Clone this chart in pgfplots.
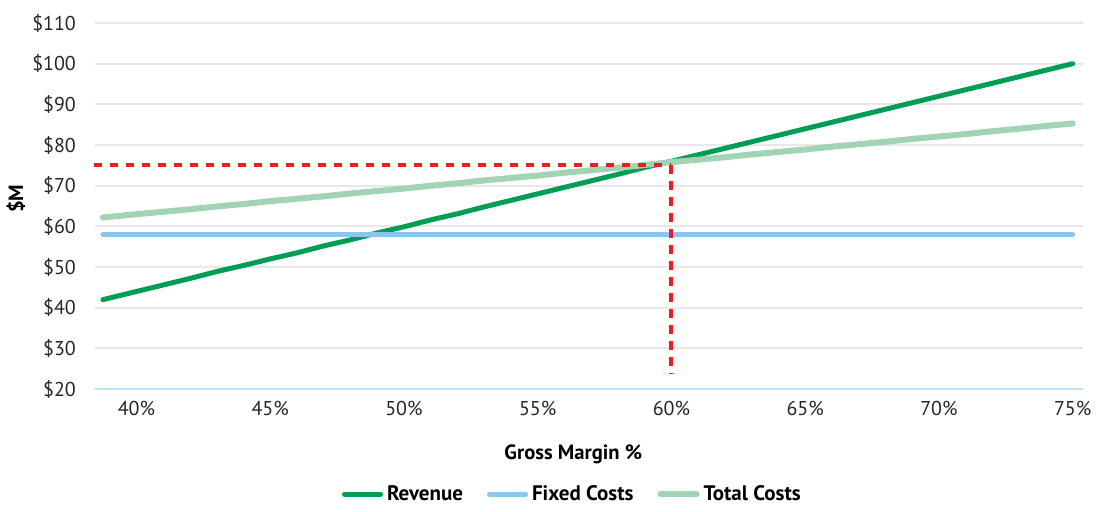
\documentclass[border=0pt]{standalone}
\usepackage{pgfplots}
\pgfplotsset{compat=1.18}
\usepackage{fontspec}
\setmainfont{PT Sans}

\definecolor{revgreen}{RGB}{0,158,82}
\definecolor{fixblue}{RGB}{142,198,232}
\definecolor{totgreen}{RGB}{160,212,180}
\definecolor{bered}{RGB}{237,28,36}
\definecolor{gridgray}{RGB}{232,232,232}
\definecolor{baseblue}{RGB}{190,224,245}

\begin{document}
\begin{tikzpicture}
\begin{axis}[
    scale only axis,
    width=494pt, height=183pt,
    xmin=38.45, xmax=75.4,
    ymin=20, ymax=110,
    xtick={40,45,...,75},
    ytick={20,30,...,110},
    xticklabel={\pgfmathprintnumber{\tick}\%},
    yticklabel={\$\pgfmathprintnumber{\tick}},
    /pgf/number format/assume math mode=true,
    tick label style={font=\fontsize{10}{12}\selectfont, text=black!85},
    axis x line=bottom, axis y line=left,
    x axis line style={draw=baseblue, line width=1pt, -},
    y axis line style={draw=none},
    major tick length=0pt,
    ymajorgrids, grid style={draw=gridgray, line width=1pt},
    xticklabel style={yshift=-2.5pt},
    yticklabel style={xshift=-6pt},
    xlabel={\textbf{Gross Margin \%}},
    xlabel style={font=\fontsize{10.3}{12}\selectfont, at={(axis description cs:0.484,0)}, anchor=center, yshift=-32.5pt},
    ylabel={\textbf{\$M}},
    ylabel style={font=\fontsize{10.3}{12}\selectfont, at={(axis description cs:0,0.52)}, anchor=center, rotate=0, yshift=39.5pt},
    legend columns=3,
    legend style={draw=none, fill=none, at={(0.484,-0.287)}, anchor=center,
        font=\fontsize{10.5}{12}\selectfont\bfseries,
        /tikz/every even column/.append style={column sep=10pt}},
    legend image code/.code={\draw[#1, line cap=round] (0pt,0pt) -- (18pt,0pt);},
    clip=false,
]
\addplot[revgreen, line width=2.5pt, line cap=round, line join=round] coordinates {
 (38.75,42.0) (40,44.0) (41,45.6) (42,47.2) (43,48.9) (44,50.4) (45,52.0)
 (46,53.5) (47,55.2) (48,56.7) (49,58.4) (50,59.9) (51,61.6) (52,63.1)
 (53,64.8) (54,66.4) (55,68.0) (56,69.6) (57,71.2) (58,72.8) (59,74.5)
 (60,76.0) (61,77.6) (62,79.2) (63,80.8) (64,82.4) (65,84.0) (66,85.6)
 (67,87.2) (68,88.8) (69,90.4) (70,92.0) (71,93.6) (72,95.2) (73,96.8)
 (74,98.4) (75,100.0)
};
\addlegendentry{Revenue}
\addplot[fixblue, line width=2.5pt, line cap=round] coordinates {
 (38.75,58) (75,58)
};
\addlegendentry{Fixed Costs}
\addplot[totgreen, line width=3pt, line cap=round, line join=round] coordinates {
 (38.75,62.2) (40,63.0) (41,63.6) (42,64.2) (43,64.9) (44,65.5) (45,66.2)
 (46,66.8) (47,67.4) (48,68.1) (49,68.7) (50,69.3) (51,70.0) (52,70.6)
 (53,71.3) (54,71.9) (55,72.5) (56,73.2) (57,73.8) (58,74.4) (59,75.1)
 (60,75.8) (61,76.4) (62,77.0) (63,77.7) (64,78.3) (65,78.9) (66,79.6)
 (67,80.2) (68,80.8) (69,81.5) (70,82.1) (71,82.7) (72,83.4) (73,84.0)
 (74,84.7) (75,85.3)
};
\addlegendentry{Total Costs}
\addplot[bered, line width=2pt, dash pattern=on 4.2pt off 3.8pt, forget plot] coordinates {
 (38.4,75) (60,75)
};
\addplot[bered, line width=2pt, dash pattern=on 4.2pt off 3.8pt, forget plot] coordinates {
 (60,75) (60,23.8)
};
% page margins like the reference
\path (rel axis cs:0.5,1) -- ++(0pt,11.5pt);
\path (rel axis cs:0.5,0) -- ++(0pt,-58pt);
\end{axis}
\end{tikzpicture}
\end{document}
